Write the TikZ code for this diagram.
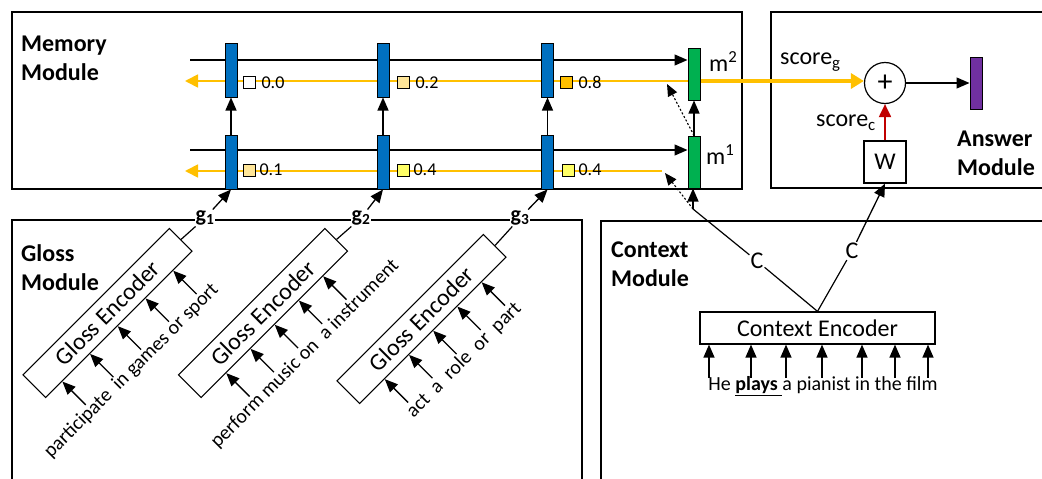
\documentclass[tikz,border=0pt]{standalone}
\usepackage{fontspec}
\setmainfont{Carlito}
\usetikzlibrary{arrows.meta,calc,backgrounds}
\definecolor{barblue}{HTML}{0070C0}
\definecolor{bargreen}{HTML}{00B050}
\definecolor{barpurple}{HTML}{7030A0}
\definecolor{gold}{HTML}{FFC000}
\definecolor{lightgold}{HTML}{FFE699}
\definecolor{yel}{HTML}{FFFF66}
\definecolor{redarrow}{HTML}{C00000}
\begin{document}
\begin{tikzpicture}[x=1pt,y=-1pt, font=\fontsize{24}{29}\selectfont,
  module/.style={draw, line width=1.5pt},
  bar/.style={draw, line width=1pt, minimum width=12pt, minimum height=54pt, inner sep=0pt},
  sq/.style={draw, line width=0.8pt, minimum size=12pt, inner sep=0pt},
  num/.style={font=\fontsize{18}{20}\selectfont, anchor=west, inner sep=0pt},
  arr/.style={line width=1.3pt, -{Triangle[length=13pt,width=11pt]}},
  oarr/.style={gold, line width=1.8pt, -{Triangle[length=13pt,width=13pt]}},
  dotarr/.style={dash pattern=on 2pt off 2pt, line width=1.1pt, -{Triangle[length=12pt,width=10pt]}},
  title/.style={font=\fontsize{24}{29}\selectfont\bfseries, align=left, anchor=north west, inner sep=0pt},
  gbox/.style={draw, line width=1.2pt, rotate=45, minimum width=207pt, minimum height=32pt, inner sep=0pt},
  gtext/.style={rotate=45, font=\fontsize{20}{24}\selectfont, inner sep=0pt},
  glabel/.style={fill=white, inner sep=1pt, font=\fontsize{22}{24}\selectfont\bfseries},
  clabel/.style={fill=white, inner sep=1pt}
]
\useasboundingbox (0,0) rectangle (1042,479);
\clip (0,0) rectangle (1042,479);

% module frames
\draw[module] (12,12) rectangle (742,189);
\draw[module] (771,12) rectangle (1060,188);
\draw[module] (12,220) rectangle (582,500);
\draw[module] (601,221) rectangle (1060,500);

% titles
\node[title] (memt) at (21,36) {Memory\\Module};
\node[title] (glosst) at (21,244) {Gloss\\Module};
\node[title] (ctxt) at (611,242) {Context\\Module};
\node[title] (anst) at (957,131) {Answer\\Module};

% memory bars
\node[bar, fill=barblue] (a1) at (231,70) {};
\node[bar, fill=barblue] (b1) at (231,162) {};
\node[bar, fill=barblue] (a2) at (383,70) {};
\node[bar, fill=barblue] (b2) at (383,162) {};
\node[bar, fill=barblue] (a3) at (547.5,70) {};
\node[bar, fill=barblue] (b3) at (547.5,162) {};
\node[bar, fill=bargreen, minimum height=52pt] (m2) at (694,74) {};
\node[bar, fill=bargreen, minimum height=52pt] (m1) at (694,162) {};
\node[bar, fill=barpurple, minimum height=52pt] (ans) at (976,83) {};

\begin{pgfonlayer}{background}
\coordinate (l2) at (190,60);
\coordinate (l1) at (190,150);
\draw[arr] (l2) -- (l2 -| m2.west);
\draw[arr] (l1) -- (l1 -| m1.west);
\coordinate (o2) at (185,81);
\coordinate (o1) at (185,171);
\coordinate (o1s) at (662,171);
\draw[oarr] (o2 -| m2.west) -- (o2);
\draw[oarr] (o1s) -- (o1);
\end{pgfonlayer}

% vertical arrows
\draw[arr] (b1) -- (a1);
\draw[arr] (b2) -- (a2);
\draw[arr] (b3) -- (a3);
\draw[arr] (m1) -- (m2);

% attention squares
\node[sq, fill=white] (s21) at (249,82.5) {};
\node[num] (n21) at ([xshift=6pt]s21.east) {0.0};
\node[sq, fill=lightgold] (s22) at (403,82.5) {};
\node[num] (n22) at ([xshift=6pt]s22.east) {0.2};
\node[sq, fill=gold] (s23) at (566,82.5) {};
\node[num] (n23) at ([xshift=6pt]s23.east) {0.8};
\node[sq, fill=lightgold] (s11) at (249,170) {};
\node[num] (n11) at ([xshift=4pt]s11.east) {0.1};
\node[sq, fill=yel] (s12) at (403,170) {};
\node[num] (n12) at ([xshift=4pt]s12.east) {0.4};
\node[sq, fill=yel] (s13) at (568,170) {};
\node[num] (n13) at ([xshift=4pt]s13.east) {0.4};

% memory labels
\node[anchor=west, inner sep=0pt] (m2l) at (709,62) {m\textsuperscript{2}};
\node[anchor=west, inner sep=0pt] (m1l) at (706,155) {m\textsuperscript{1}};

% answer module
\node[draw, circle, line width=1.2pt, minimum size=41pt, inner sep=0pt, font=\fontsize{30}{30}\selectfont] (plus) at (885,83) {+};
\draw[gold, line width=3.5pt, -{Triangle[length=13pt,width=15pt]}] (o2 -| m2.east) -- (o2 -| plus.west);
\draw[arr] (plus.east) -- (ans.west);
\node[draw, line width=1.2pt, minimum size=42pt, inner sep=0pt] (W) at (885,162) {W};
\draw[redarrow, line width=2pt, -{Triangle[length=13pt,width=12pt]}] (W) -- (plus);
\node[anchor=west, inner sep=0pt] (sg) at (780,62) {score\textsubscript{g}};
\node[anchor=west, inner sep=0pt] (sc) at (816,123) {score\textsubscript{c}};

% context module
\node[draw, line width=1.2pt, minimum width=235pt, minimum height=32pt, inner sep=0pt] (ce) at (817.5,328) {Context Encoder};
\foreach \x [count=\i] in {709,751,786,822,862,895,928} {
  \coordinate (ci\i) at (\x,378);
  \draw[arr] (ci\i) -- (ci\i |- ce.south);
}
\node[font=\fontsize{20}{24}\selectfont, inner sep=0pt] (sent) at (823,386) {He \underline{\textbf{plays}\ }a pianist in the film};

\coordinate (cj) at (693,209);
\node[clabel] (c1) at (757,261) {C};
\node[clabel] (c2) at (852,251) {C};
\draw[line width=1.2pt] (ce.north) -- (c1) -- (cj);
\draw[arr] (cj) -- (cj |- m1.south);
\draw[line width=1.2pt] (ce.north) -- (c2);
\draw[arr] (c2) -- (W.south);

\coordinate (o1tip) at (665,173);
\coordinate (o2tip) at (667,84);
\draw[dotarr] (cj) -- (o1tip);
\draw[dotarr] (m1.north) -- (o2tip);

% gloss module
\node[gbox] (ge1) at (107.5,313) {Gloss Encoder};
\node[gbox] (ge2) at (263,313) {Gloss Encoder};
\node[gbox] (ge3) at (421.5,319) {Gloss Encoder};
\node[gtext] (gt1) at (131.5,371) {participate\ \ in games or sport};
\node[gtext] (gt2) at (305,354) {perform music on\ \ a instrument};
\node[gtext] (gt3) at (464,360) {act\ \ a\ \ role\ \ or\ \ part};
\foreach \p in {0.114,0.302,0.49,0.679,0.867}
  \draw[arr] ($(ge1.south west)!\p!(ge1.south east)+(-45:33pt)$) -- ($(ge1.south west)!\p!(ge1.south east)$);
\foreach \p in {0.171,0.336,0.5,0.664,0.829} {
  \draw[arr] ($(ge2.south west)!\p!(ge2.south east)+(-45:33pt)$) -- ($(ge2.south west)!\p!(ge2.south east)$);
  \draw[arr] ($(ge3.south west)!\p!(ge3.south east)+(-45:33pt)$) -- ($(ge3.south west)!\p!(ge3.south east)$);
}
\node[glabel] (g1) at (205,218) {g\textsubscript{1}};
\node[glabel] (g2) at (361,218) {g\textsubscript{2}};
\node[glabel] (g3) at (520,218) {g\textsubscript{3}};
\draw[line width=1.2pt] (ge1.east) -- (g1);
\draw[line width=1.2pt] (ge2.east) -- (g2);
\draw[line width=1.2pt] (ge3.east) -- (g3);
\draw[arr] (g1) -- (b1.south);
\draw[arr] (g2) -- (b2.south);
\draw[arr] (g3) -- (b3.south);
\end{tikzpicture}
\end{document}
